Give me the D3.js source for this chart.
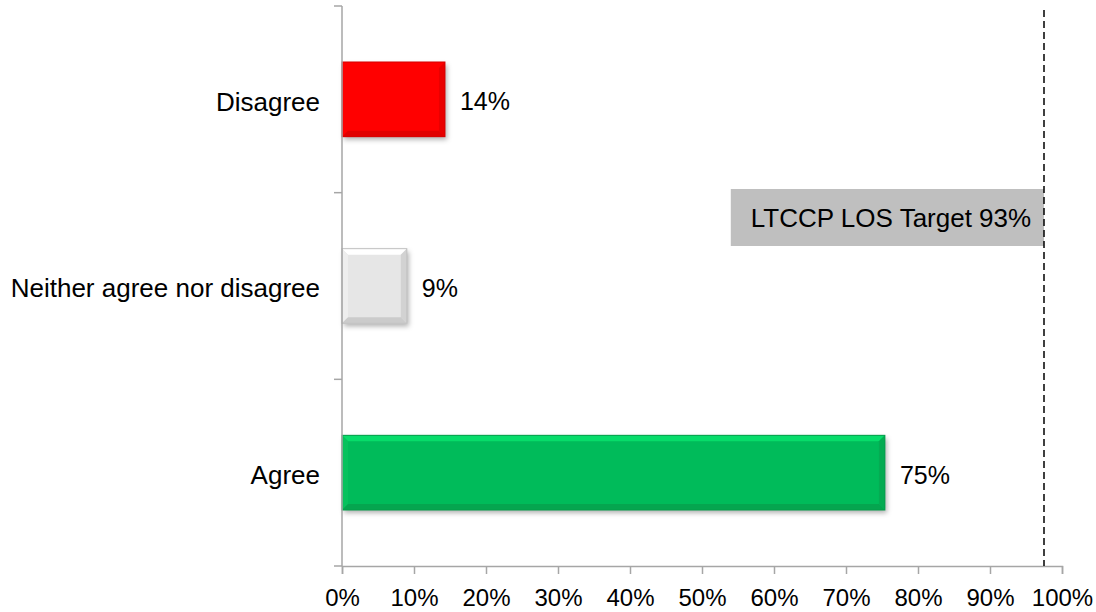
<!DOCTYPE html>
<html>
<head>
<meta charset="utf-8">
<script src="https://cdn.jsdelivr.net/npm/d3@7"></script>
<style>
  body { margin: 0; background: #fff; }
  svg { display: block; font-family: "Liberation Sans", Arial, sans-serif; }
</style>
</head>
<body>
<svg width="1096" height="612"></svg>
<script>
(() => {

    // data
    const categories = ['Disagree', 'Neither agree nor disagree', 'Agree'];
    const values = [0.143, 0.09, 0.754];
    const valueLabels = ['14%', '9%', '75%'];
    const barColors = ['#ff0000', '#e6e6e6', '#06bb5a'];
    const xTicks = [0, 0.1, 0.2, 0.3, 0.4, 0.5, 0.6, 0.7, 0.8, 0.9, 1];
    const targetLabel = 'LTCCP LOS Target 93%';
    const targetLinePos = 0.975;
    const targetBoxStart = 0.54;

    const svg = d3.select('svg');
    const left = 342, right = 1062, top = 6, bottom = 566;

    const x = d3.scaleLinear().domain([0, 1]).range([left, right]);
    const y = d3.scaleBand().domain(categories).range([top, bottom]).paddingInner(0.6).paddingOuter(0.3);

    const defs = svg.append('defs');
    defs.append('filter')
            .attr('id', 'shadow')
            .attr('x', '-10%').attr('y', '-10%')
            .attr('width', '130%').attr('height', '140%')
            .append('feDropShadow')
            .attr('dx', 2).attr('dy', 3)
            .attr('stdDeviation', 2.5)
            .attr('flood-color', '#000')
            .attr('flood-opacity', 0.3);

    // bars with a soft bevel look
    const bevel = 6;
    const bars = svg.append('g').selectAll('g')
            .data(categories)
            .enter().append('g');

    bars.each(function(c, i) {
        const g = d3.select(this);
        const x0 = x(0), x1 = x(values[i]);
        const y0 = y(c), y1 = y(c) + y.bandwidth();
        const col = d3.color(barColors[i]);
        const b = Math.min(bevel, (x1 - x0) / 2);

        g.append('rect')
                .attr('x', x0).attr('y', y0)
                .attr('width', x1 - x0).attr('height', y1 - y0)
                .attr('fill', col)
                .attr('filter', 'url(#shadow)');

        const poly = (pts, fill) => g.append('polygon')
                .attr('points', pts.map(p => p.join(',')).join(' '))
                .attr('fill', fill);

        poly([[x0, y0], [x1, y0], [x1 - b, y0 + b], [x0 + b, y0 + b]], col.brighter(0.45));
        poly([[x0, y0], [x0 + b, y0 + b], [x0 + b, y1 - b], [x0, y1]], col.brighter(0.1));
        poly([[x1, y0], [x1, y1], [x1 - b, y1 - b], [x1 - b, y0 + b]], col.darker(0.25));
        poly([[x0, y1], [x0 + b, y1 - b], [x1 - b, y1 - b], [x1, y1]], col.darker(0.35));
        g.append('rect')
                .attr('x', x0).attr('y', y0)
                .attr('width', x1 - x0).attr('height', y1 - y0)
                .attr('fill', 'none')
                .attr('stroke', col.darker(0.5))
                .attr('stroke-width', 1);
    });

    // value labels
    svg.append('g').selectAll('text')
            .data(categories)
            .enter().append('text')
            .attr('x', (d, i) => x(values[i]) + 15)
            .attr('y', d => y(d) + y.bandwidth() / 2)
            .attr('dy', '0.44em')
            .attr('font-size', 25)
            .attr('fill', '#000')
            .text((d, i) => valueLabels[i]);

    // category labels
    svg.append('g').selectAll('text')
            .data(categories)
            .enter().append('text')
            .attr('x', 320)
            .attr('y', d => y(d) + y.bandwidth() / 2)
            .attr('dy', '0.44em')
            .attr('text-anchor', 'end')
            .attr('font-size', 26)
            .attr('fill', '#000')
            .text(d => d);

    // y axis line + ticks at band boundaries
    const axisColor = '#a6a6a6';
    svg.append('line')
            .attr('x1', left).attr('x2', left)
            .attr('y1', top).attr('y2', bottom)
            .attr('stroke', axisColor).attr('stroke-width', 1.5);
    const step = (bottom - top) / categories.length;
    svg.append('g').selectAll('line')
            .data(d3.range(categories.length + 1))
            .enter().append('line')
            .attr('x1', left - 8).attr('x2', left)
            .attr('y1', d => top + d * step).attr('y2', d => top + d * step)
            .attr('stroke', axisColor).attr('stroke-width', 1.5);

    // x axis
    const xAxis = svg.append('g')
            .attr('transform', `translate(0,${bottom})`)
            .call(d3.axisBottom(x).tickValues(xTicks).tickFormat(d3.format('.0%')).tickSize(8).tickPadding(15));
    xAxis.select('.domain').attr('stroke', axisColor).attr('stroke-width', 1.5);
    xAxis.selectAll('.tick line').attr('stroke', axisColor).attr('stroke-width', 1.5);
    xAxis.selectAll('.tick text')
            .attr('font-family', '"Liberation Sans", Arial, sans-serif')
            .attr('font-size', 24)
            .attr('fill', '#000');

    // target box
    const boxY = 189, boxH = 57;
    svg.append('rect')
            .attr('x', x(targetBoxStart)).attr('y', boxY)
            .attr('width', x(targetLinePos) - x(targetBoxStart)).attr('height', boxH)
            .attr('fill', '#bfbfbf');
    svg.append('text')
            .attr('x', x(targetBoxStart) + 20)
            .attr('y', boxY + boxH / 2)
            .attr('dy', '0.36em')
            .attr('font-size', 26)
            .attr('fill', '#000')
            .text(targetLabel);

    // target dashed line
    svg.append('line')
            .attr('x1', x(targetLinePos)).attr('x2', x(targetLinePos))
            .attr('y1', 10).attr('y2', bottom)
            .attr('stroke', '#000')
            .attr('stroke-width', 1.5)
            .attr('stroke-dasharray', '7,4');

})();
</script>
</body>
</html>
